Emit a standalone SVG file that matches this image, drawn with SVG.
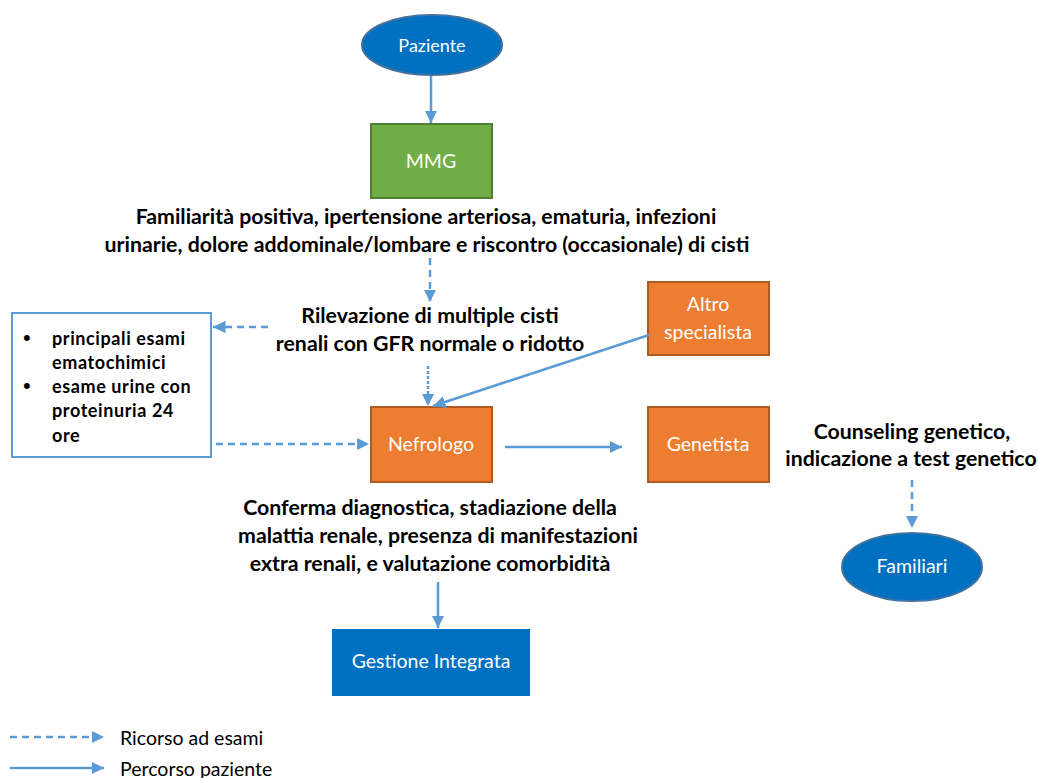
<svg xmlns="http://www.w3.org/2000/svg" width="1038" height="778" viewBox="0 0 1038 778">
<style>
.lbl{font-family:Lato,"Open Sans","Liberation Sans",sans-serif;font-weight:bold;font-size:21.3px;fill:#000;text-anchor:middle}
.box{font-family:Lato,"Open Sans","Liberation Sans",sans-serif;font-size:19.5px;fill:#fff;text-anchor:middle}
.lst{font-family:Lato,"Open Sans","Liberation Sans",sans-serif;font-weight:bold;font-size:18px;letter-spacing:0.6px;fill:#000}
.bul{font-family:"Liberation Sans",sans-serif;font-size:22px;fill:#000}
.leg{font-family:Lato,"Open Sans","Liberation Sans",sans-serif;font-size:19.5px;fill:#000}
.sol{stroke:#5B9BD5;stroke-width:2.5;fill:none}
.dsh{stroke:#5B9BD5;stroke-width:2.5;fill:none;stroke-dasharray:7,5}
.dot{stroke:#5B9BD5;stroke-width:2.5;fill:none;stroke-dasharray:3,2}
.or{fill:#ED7D31;stroke:#AE5A21;stroke-width:2}
</style>
<defs>
<marker id="ah" viewBox="0 0 10 10" refX="10" refY="5" markerWidth="5" markerHeight="5" orient="auto" markerUnits="strokeWidth">
<path d="M0,0 L10,5 L0,10 z" fill="#5B9BD5"/>
</marker>
</defs>
<rect width="1038" height="778" fill="#fff"/>
<g id="paziente">
<ellipse cx="432" cy="45" rx="70" ry="30" fill="#0070C0" stroke="#41719C" stroke-width="2"/>
<text class="box" x="432" y="52" style="font-size:18px">Paziente</text>
</g>
<g id="mmg">
<rect x="371" y="124" width="121" height="74" fill="#70AD47" stroke="#507E32" stroke-width="2"/>
<text class="box" x="431" y="168">MMG</text>
</g>
<g id="familiarita">
<text class="lbl" x="426" y="224">Familiarità positiva, ipertensione arteriosa, ematuria, infezioni</text>
<text class="lbl" x="427" y="252">urinarie, dolore addominale/lombare e riscontro (occasionale) di cisti</text>
</g>
<g id="rilevazione">
<text class="lbl" x="430" y="323">Rilevazione di multiple cisti</text>
<text class="lbl" x="430" y="351">renali con GFR normale o ridotto</text>
</g>
<g id="esami">
<rect x="12" y="313" width="199" height="144" fill="#fff" stroke="#5B9BD5" stroke-width="2"/>
<text class="bul" x="23" y="345">•</text>
<text class="lst" x="52" y="345">principali esami</text>
<text class="lst" x="52" y="369">ematochimici</text>
<text class="bul" x="23" y="393">•</text>
<text class="lst" x="52" y="393">esame urine con</text>
<text class="lst" x="52" y="417">proteinuria 24</text>
<text class="lst" x="52" y="442">ore</text>
</g>
<g id="altro">
<rect x="648" y="282" width="121" height="73" class="or"/>
<text class="box" x="708" y="311">Altro</text>
<text class="box" x="708" y="339">specialista</text>
</g>
<g id="nefrologo">
<rect x="371" y="407" width="121" height="75" class="or"/>
<text class="box" x="431" y="451">Nefrologo</text>
</g>
<g id="genetista">
<rect x="648" y="407" width="121" height="75" class="or"/>
<text class="box" x="708" y="451">Genetista</text>
</g>
<g id="counseling">
<text class="lbl" x="912" y="439">Counseling genetico,</text>
<text class="lbl" x="911" y="466">indicazione a test genetico</text>
</g>
<g id="familiari">
<ellipse cx="912" cy="567" rx="70" ry="34" fill="#0070C0" stroke="#41719C" stroke-width="2"/>
<text class="box" x="912" y="573">Familiari</text>
</g>
<g id="conferma">
<text class="lbl" x="430" y="515">Conferma diagnostica, stadiazione della</text>
<text class="lbl" x="438" y="543">malattia renale, presenza di manifestazioni</text>
<text class="lbl" x="430" y="571">extra renali, e valutazione comorbidità</text>
</g>
<g id="gestione">
<rect x="332" y="629" width="198" height="67" fill="#0070C0"/>
<text class="box" x="431" y="668">Gestione Integrata</text>
</g>
<g id="legend">
<line x1="10" y1="737" x2="104" y2="737" class="dsh" marker-end="url(#ah)"/>
<text class="leg" x="120" y="745">Ricorso ad esami</text>
<line x1="10" y1="768" x2="104" y2="768" class="sol" marker-end="url(#ah)"/>
<text class="leg" x="120" y="776">Percorso paziente</text>
</g>
<g id="connectors">
<line x1="431" y1="76" x2="431" y2="123" class="sol" marker-end="url(#ah)"/>
<line x1="430" y1="258" x2="430" y2="302" class="dsh" marker-end="url(#ah)"/>
<line x1="268" y1="327" x2="213" y2="327" class="dsh" marker-end="url(#ah)"/>
<line x1="428" y1="366" x2="428" y2="406" class="dot" marker-end="url(#ah)"/>
<line x1="649" y1="335" x2="433" y2="406" class="sol" marker-end="url(#ah)"/>
<line x1="216" y1="444" x2="369" y2="444" class="dsh" marker-end="url(#ah)"/>
<line x1="505" y1="447" x2="622" y2="447" class="sol" marker-end="url(#ah)"/>
<line x1="912" y1="480" x2="912" y2="528" class="dsh" marker-end="url(#ah)"/>
<line x1="438" y1="582" x2="438" y2="628" class="sol" marker-end="url(#ah)"/>
</g>
</svg>
